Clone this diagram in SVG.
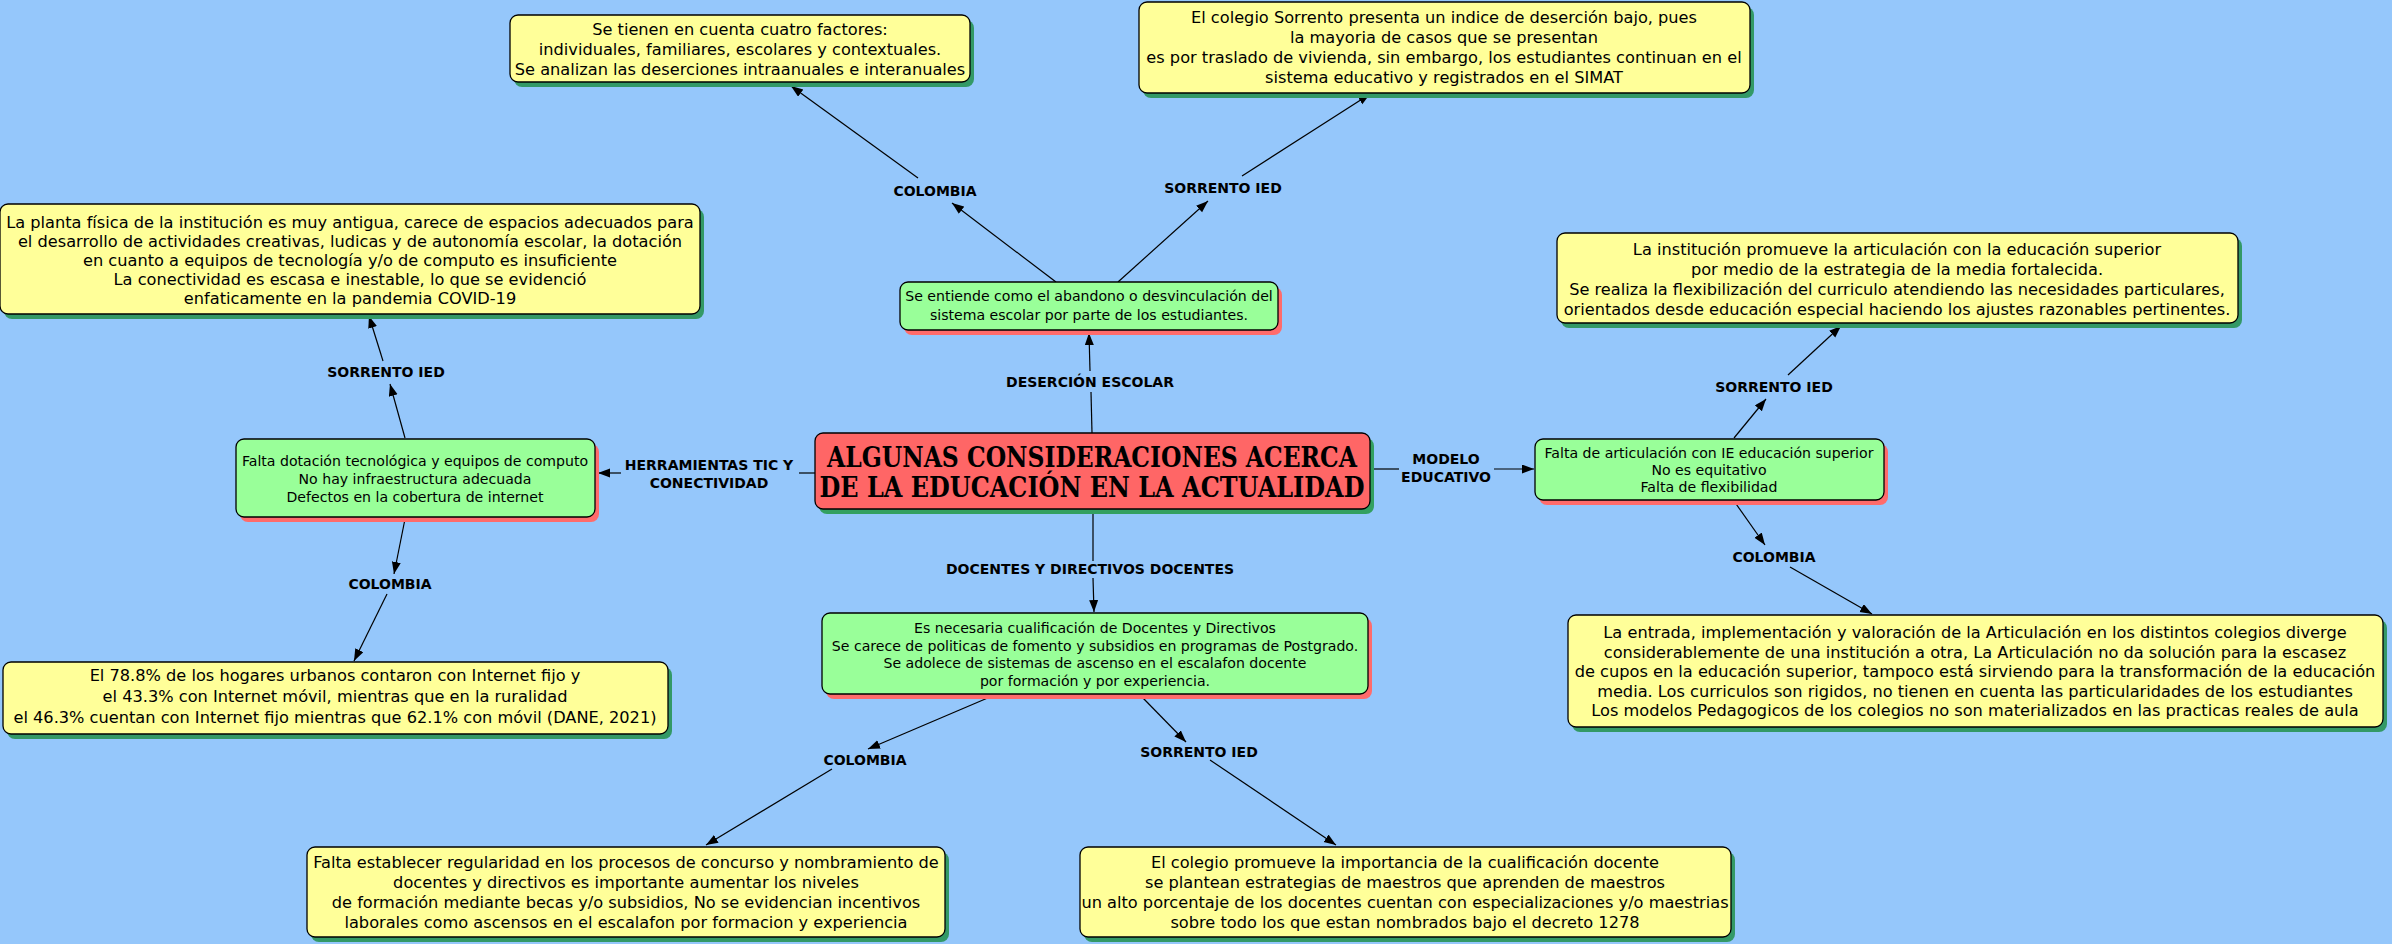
<svg xmlns="http://www.w3.org/2000/svg" width="2392" height="944" viewBox="0 0 2392 944">
<defs>
<marker id="ah" markerUnits="userSpaceOnUse" markerWidth="13" markerHeight="10" refX="12" refY="4.5" orient="auto">
<path d="M0,0 L12,4.5 L0,9 z" fill="#000"/>
</marker>
</defs>
<style>
.y{fill:#FFFF99;stroke:#000;stroke-width:1.3}
.g{fill:#99FF99;stroke:#000;stroke-width:1.3}
.r{fill:#FF6666;stroke:#000;stroke-width:1.3}
.sy{fill:#339966}
.sg{fill:#FF6B6B}
.sr{fill:#33A060}
.t{font-family:"DejaVu Sans",sans-serif;text-anchor:middle;fill:#000}
.t16{font-size:16.2px}
.t15{font-size:14.1px}
.lbl{font-family:"DejaVu Sans",sans-serif;font-weight:bold;font-size:14px;text-anchor:middle;fill:#000}
.title{font-family:"DejaVu Serif Condensed","DejaVu Serif",serif;font-stretch:condensed;font-weight:bold;font-size:27px;fill:#000}
.c{stroke:#000;stroke-width:1.2;fill:none}
.a{marker-end:url(#ah)}
</style>
<rect width="2392" height="944" fill="#95C7FB"/>

<g id="connectors">
<path class="c" d="M1092,433 L1091,392"/>
<path class="c a" d="M1090,371 L1089,333"/>
<path class="c" d="M815,473 L799,473"/>
<path class="c a" d="M621,473 L598,473"/>
<path class="c" d="M1371,469 L1399,469"/>
<path class="c a" d="M1494,469 L1534,469"/>
<path class="c" d="M1093,511 L1093,561"/>
<path class="c a" d="M1093,578 L1094,612"/>
<path class="c a" d="M1056,282 L952,203"/>
<path class="c a" d="M918,178 L791,86"/>
<path class="c a" d="M1118,282 L1208,201"/>
<path class="c a" d="M1242,176 L1370,94"/>
<path class="c a" d="M405,438 L390,384"/>
<path class="c a" d="M383,361 L369,316"/>
<path class="c a" d="M405,519 L394,574"/>
<path class="c a" d="M387,594 L354,661"/>
<path class="c a" d="M990,697 L868,749"/>
<path class="c a" d="M832,769 L706,845"/>
<path class="c a" d="M1142,697 L1186,742"/>
<path class="c a" d="M1210,760 L1336,845"/>
<path class="c a" d="M1734,438 L1766,399"/>
<path class="c a" d="M1788,375 L1841,326"/>
<path class="c a" d="M1734,501 L1765,545"/>
<path class="c a" d="M1790,567 L1872,614"/>
<text class="lbl" x="1090" y="387">DESERCIÓN ESCOLAR</text>
<text class="lbl" x="709" y="470">HERRAMIENTAS TIC Y</text>
<text class="lbl" x="709" y="488">CONECTIVIDAD</text>
<text class="lbl" x="1446" y="464">MODELO</text>
<text class="lbl" x="1446" y="482">EDUCATIVO</text>
<text class="lbl" x="1090" y="574">DOCENTES Y DIRECTIVOS DOCENTES</text>
<text class="lbl" x="935" y="196">COLOMBIA</text>
<text class="lbl" x="1223" y="193">SORRENTO IED</text>
<text class="lbl" x="386" y="377">SORRENTO IED</text>
<text class="lbl" x="390" y="589">COLOMBIA</text>
<text class="lbl" x="865" y="765">COLOMBIA</text>
<text class="lbl" x="1199" y="757">SORRENTO IED</text>
<text class="lbl" x="1774" y="392">SORRENTO IED</text>
<text class="lbl" x="1774" y="562">COLOMBIA</text>
</g>

<g id="central">
<rect class="sr" x="819" y="438" width="555" height="76" rx="8"/>
<rect class="r" x="815" y="433" width="555" height="76" rx="8"/>
<text class="title" x="1092" y="467" text-anchor="middle" textLength="530" lengthAdjust="spacingAndGlyphs">ALGUNAS CONSIDERACIONES ACERCA</text>
<text class="title" x="1092" y="497" text-anchor="middle" textLength="545" lengthAdjust="spacingAndGlyphs">DE LA EDUCACIÓN EN LA ACTUALIDAD</text>
</g>

<g id="desercion">
<rect class="sg" x="904" y="287" width="378" height="48" rx="8"/>
<rect class="g" x="900" y="282" width="378" height="48" rx="8"/>
<text class="t t15" x="1089" y="301">Se entiende como el abandono o desvinculación del</text>
<text class="t t15" x="1089" y="320">sistema escolar por parte de los estudiantes.</text>
</g>

<g id="desercion-colombia">
<rect class="sy" x="514" y="20" width="460" height="67" rx="8"/>
<rect class="y" x="510" y="15" width="460" height="67" rx="8"/>
<text class="t t16" x="740" y="35">Se tienen en cuenta cuatro factores:</text>
<text class="t t16" x="740" y="55">individuales, familiares, escolares y contextuales.</text>
<text class="t t16" x="740" y="75">Se analizan las deserciones intraanuales e interanuales</text>
</g>

<g id="desercion-sorrento">
<rect class="sy" x="1143" y="7" width="611" height="91" rx="8"/>
<rect class="y" x="1139" y="2" width="611" height="91" rx="8"/>
<text class="t t16" x="1444" y="23">El colegio Sorrento presenta un indice de deserción bajo, pues</text>
<text class="t t16" x="1444" y="43">la mayoria de casos que se presentan</text>
<text class="t t16" x="1444" y="63">es por traslado de vivienda, sin embargo, los estudiantes continuan en el</text>
<text class="t t16" x="1444" y="83">sistema educativo y registrados en el SIMAT</text>
</g>

<g id="tic">
<rect class="sg" x="240" y="444" width="359" height="78" rx="8"/>
<rect class="g" x="236" y="439" width="359" height="78" rx="8"/>
<text class="t t15" x="415" y="466">Falta dotación tecnológica y equipos de computo</text>
<text class="t t15" x="415" y="484">No hay infraestructura adecuada</text>
<text class="t t15" x="415" y="502">Defectos en la cobertura de internet</text>
</g>

<g id="tic-sorrento">
<rect class="sy" x="4" y="209" width="700" height="110" rx="8"/>
<rect class="y" x="0" y="204" width="700" height="110" rx="8"/>
<text class="t t16" x="350" y="228">La planta física de la institución es muy antigua, carece de espacios adecuados para</text>
<text class="t t16" x="350" y="247">el desarrollo de actividades creativas, ludicas y de autonomía escolar, la dotación</text>
<text class="t t16" x="350" y="266">en cuanto a equipos de tecnología y/o de computo es insuficiente</text>
<text class="t t16" x="350" y="285">La conectividad es escasa e inestable, lo que se evidenció</text>
<text class="t t16" x="350" y="304">enfaticamente en la pandemia COVID-19</text>
</g>

<g id="tic-colombia">
<rect class="sy" x="7" y="667" width="665" height="72" rx="8"/>
<rect class="y" x="3" y="662" width="665" height="72" rx="8"/>
<text class="t t16" x="335" y="681">El 78.8% de los hogares urbanos contaron con Internet fijo y</text>
<text class="t t16" x="335" y="702">el 43.3% con Internet móvil, mientras que en la ruralidad</text>
<text class="t t16" x="335" y="723">el 46.3% cuentan con Internet fijo mientras que 62.1% con móvil (DANE, 2021)</text>
</g>

<g id="modelo">
<rect class="sg" x="1539" y="444" width="349" height="61" rx="8"/>
<rect class="g" x="1535" y="439" width="349" height="61" rx="8"/>
<text class="t t15" x="1709" y="458">Falta de articulación con IE educación superior</text>
<text class="t t15" x="1709" y="475">No es equitativo</text>
<text class="t t15" x="1709" y="492">Falta de flexibilidad</text>
</g>

<g id="modelo-sorrento">
<rect class="sy" x="1561" y="238" width="681" height="90" rx="8"/>
<rect class="y" x="1557" y="233" width="681" height="90" rx="8"/>
<text class="t t16" x="1897" y="255">La institución promueve la articulación con la educación superior</text>
<text class="t t16" x="1897" y="275">por medio de la estrategia de la media fortalecida.</text>
<text class="t t16" x="1897" y="295">Se realiza la flexibilización del curriculo atendiendo las necesidades particulares,</text>
<text class="t t16" x="1897" y="315">orientados desde educación especial haciendo los ajustes razonables pertinentes.</text>
</g>

<g id="modelo-colombia">
<rect class="sy" x="1572" y="620" width="815" height="112" rx="8"/>
<rect class="y" x="1568" y="615" width="815" height="112" rx="8"/>
<text class="t t16" x="1975" y="638">La entrada, implementación y valoración de la Articulación en los distintos colegios diverge</text>
<text class="t t16" x="1975" y="657.5">considerablemente de una institución a otra, La Articulación no da solución para la escasez</text>
<text class="t t16" x="1975" y="677">de cupos en la educación superior, tampoco está  sirviendo para la transformación de la educación</text>
<text class="t t16" x="1975" y="696.5">media. Los curriculos son rigidos, no tienen en cuenta las particularidades de los estudiantes</text>
<text class="t t16" x="1975" y="716">Los modelos Pedagogicos de los colegios no son materializados en las practicas reales de aula</text>
</g>

<g id="docentes">
<rect class="sg" x="826" y="618" width="546" height="81" rx="8"/>
<rect class="g" x="822" y="613" width="546" height="81" rx="8"/>
<text class="t t15" x="1095" y="633">Es necesaria cualificación de Docentes y Directivos</text>
<text class="t t15" x="1095" y="650.5">Se carece de politicas de fomento y subsidios en programas de Postgrado.</text>
<text class="t t15" x="1095" y="668">Se adolece de sistemas de ascenso en el escalafon docente</text>
<text class="t t15" x="1095" y="685.5">por formación y por experiencia.</text>
</g>

<g id="docentes-colombia">
<rect class="sy" x="311" y="852" width="638" height="90" rx="8"/>
<rect class="y" x="307" y="847" width="638" height="90" rx="8"/>
<text class="t t16" x="626" y="868">Falta establecer regularidad en los procesos de concurso y nombramiento de</text>
<text class="t t16" x="626" y="888">docentes y directivos es importante aumentar los niveles</text>
<text class="t t16" x="626" y="908">de formación mediante becas y/o subsidios, No se evidencian incentivos</text>
<text class="t t16" x="626" y="928">laborales como ascensos en el escalafon por formacion  y experiencia</text>
</g>

<g id="docentes-sorrento">
<rect class="sy" x="1084" y="852" width="651" height="90" rx="8"/>
<rect class="y" x="1080" y="847" width="651" height="90" rx="8"/>
<text class="t t16" x="1405" y="868">El colegio promueve la importancia de la cualificación docente</text>
<text class="t t16" x="1405" y="888">se plantean estrategias de maestros que aprenden de maestros</text>
<text class="t t16" x="1405" y="908">un alto porcentaje de los docentes cuentan con especializaciones y/o maestrias</text>
<text class="t t16" x="1405" y="928">sobre todo los que estan nombrados bajo el decreto 1278</text>
</g>
</svg>
